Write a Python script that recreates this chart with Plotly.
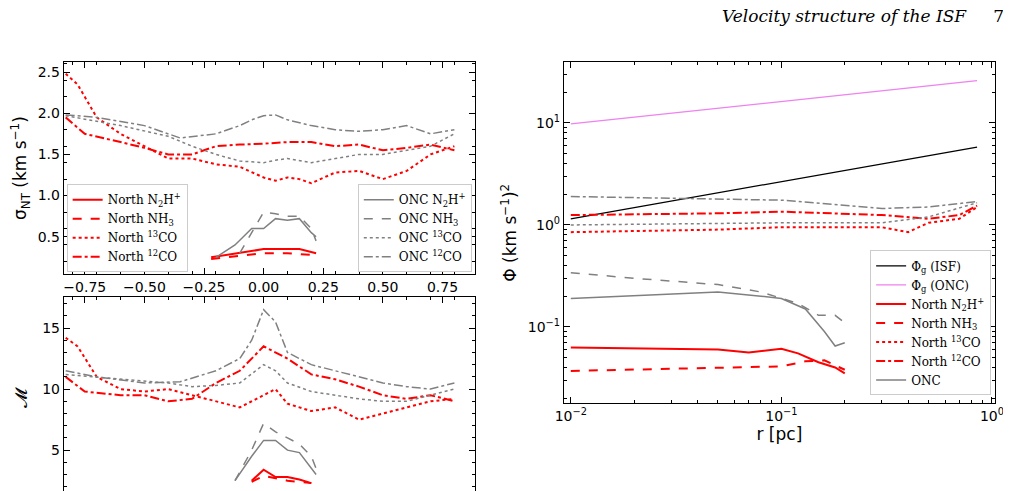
import plotly.graph_objects as go

# ---------- sigma_NT / Mach panels ----------
n12_x = [-0.83,-0.75,-0.6,-0.5,-0.4,-0.3,-0.2,-0.1,0,0.1,0.2,0.3,0.4,0.5,0.6,0.7,0.8]
n12_s = [1.95,1.75,1.65,1.58,1.5,1.5,1.6,1.62,1.63,1.65,1.65,1.6,1.62,1.55,1.58,1.62,1.55]
n12_m = [11,9.8,9.5,9.5,9,9.2,10.5,11.5,13.5,12.5,11.2,10.8,10.2,9.5,9.2,9.5,9]
n13_x = [-0.83,-0.78,-0.7,-0.6,-0.5,-0.4,-0.3,-0.2,-0.1,0,0.05,0.1,0.15,0.2,0.3,0.4,0.5,0.6,0.7,0.8]
n13_s = [2.48,2.35,1.95,1.75,1.6,1.45,1.45,1.38,1.35,1.22,1.18,1.22,1.2,1.15,1.28,1.3,1.2,1.3,1.5,1.6]
n13_m = [14.2,13.5,11,10,9.8,10,9.5,9,8.5,9.5,10,8.8,8.5,8.2,8.5,7.5,8,8.5,9,9.2]
o12_x = [-0.83,-0.7,-0.5,-0.35,-0.2,-0.1,-0.05,0,0.05,0.1,0.2,0.3,0.4,0.5,0.6,0.7,0.8]
o12_s = [1.98,1.95,1.85,1.7,1.75,1.85,1.92,1.97,1.98,1.92,1.85,1.8,1.78,1.8,1.85,1.75,1.8]
o12_m = [11.5,11,10.5,10.6,11.5,12.5,14,16.5,15.5,13,12,11.5,11,10.5,10.2,10,10.5]
o13_x = [-0.83,-0.6,-0.4,-0.3,-0.2,-0.1,0,0.05,0.1,0.2,0.3,0.4,0.5,0.6,0.7,0.8]
o13_s = [1.97,1.85,1.72,1.6,1.5,1.42,1.4,1.43,1.45,1.4,1.45,1.5,1.5,1.55,1.6,1.75]
o13_m = [11.2,10.8,10.5,10.2,10.3,10.5,12,11.5,10.5,9.8,9.5,9.2,9,9,9.5,10]
on2h_x = [-0.2,-0.12,-0.05,0,0.05,0.1,0.15,0.2,0.22]
on2h_s = [0.25,0.4,0.6,0.6,0.72,0.7,0.72,0.55,0.5]
on2h_mx = [-0.12,-0.05,0,0.05,0.1,0.15,0.22]
on2h_m = [2.5,4.5,5.8,5.8,5.0,4.8,3.0]
onh3_x = [-0.1,-0.05,0,0.05,0.1,0.15,0.2,0.22]
onh3_s = [0.3,0.55,0.8,0.78,0.75,0.75,0.6,0.45]
onh3_mx = [-0.12,-0.05,0,0.05,0.1,0.15,0.2,0.22]
onh3_m = [2.5,5,7.2,6.5,6,5.5,4.5,3.5]
nn2h_x = [-0.22,-0.1,0,0.05,0.1,0.15,0.22]
nn2h_s = [0.25,0.3,0.35,0.35,0.35,0.35,0.3]
nn2h_mx = [-0.05,0,0.05,0.1,0.15,0.2]
nn2h_m = [2.5,3.4,2.8,2.8,2.6,2.3]
nnh3_x = [-0.22,-0.1,0,0.1,0.2]
nnh3_s = [0.23,0.27,0.3,0.3,0.28]
nnh3_mx = [-0.05,0,0.1,0.2]
nnh3_m = [2.4,2.9,2.5,2.3]

# ---------- Phi panel ----------
isf_r = [0.01, 0.85]; isf_p = [1.15, 5.8]
oncg_r = [0.01, 0.85]; oncg_p = [9.8, 26]
po12_r = [0.01,0.1,0.3,0.5,0.85]; po12_p = [1.9,1.75,1.45,1.5,1.7]
po13_r = [0.01,0.1,0.3,0.5,0.85]; po13_p = [1.0,1.05,1.05,1.2,1.65]
pn12_r = [0.01,0.05,0.1,0.3,0.5,0.7,0.85]; pn12_p = [1.25,1.3,1.35,1.25,1.15,1.25,1.55]
pn13_r = [0.01,0.05,0.1,0.3,0.4,0.5,0.7,0.85]; pn13_p = [0.85,0.9,0.95,0.95,0.85,1.05,1.15,1.5]
ponh3_r = [0.01,0.02,0.05,0.08,0.12,0.15,0.18,0.2]; ponh3_p = [0.34,0.3,0.26,0.22,0.17,0.13,0.13,0.11]
pon2h_r = [0.01,0.03,0.05,0.08,0.1,0.13,0.16,0.18,0.2]; pon2h_p = [0.19,0.21,0.22,0.2,0.19,0.15,0.09,0.065,0.07]
pnn2h_r = [0.01,0.05,0.07,0.1,0.12,0.15,0.18,0.2]; pnn2h_p = [0.063,0.06,0.056,0.061,0.055,0.045,0.04,0.035]
pnnh3_r = [0.01,0.05,0.1,0.13,0.16,0.2]; pnnh3_p = [0.037,0.04,0.041,0.046,0.047,0.038]

RED = "red"; GRAY = "gray"
fig = go.Figure()
def add(x, y, color, dash, name, xa, ya, legend=None, width=2):
    fig.add_trace(go.Scatter(x=x, y=y, mode="lines", name=name,
        line=dict(color=color, dash=dash, width=width), xaxis=xa, yaxis=ya,
        legend=legend if legend else "legend", showlegend=legend is not None))

lab = {"n2h":"N<sub>2</sub>H<sup>+</sup>","nh3":"NH<sub>3</sub>","13":"<sup>13</sup>CO","12":"<sup>12</sup>CO"}
add(nn2h_x, nn2h_s, RED, "solid", "North "+lab["n2h"], "x", "y", "legend")
add(nnh3_x, nnh3_s, RED, "dash", "North "+lab["nh3"], "x", "y", "legend")
add(n13_x, n13_s, RED, "dot", "North "+lab["13"], "x", "y", "legend")
add(n12_x, n12_s, RED, "dashdot", "North "+lab["12"], "x", "y", "legend")
add(on2h_x, on2h_s, GRAY, "solid", "ONC "+lab["n2h"], "x", "y", "legend2", 1.5)
add(onh3_x, onh3_s, GRAY, "dash", "ONC "+lab["nh3"], "x", "y", "legend2", 1.5)
add(o13_x, o13_s, GRAY, "dot", "ONC "+lab["13"], "x", "y", "legend2", 1.5)
add(o12_x, o12_s, GRAY, "dashdot", "ONC "+lab["12"], "x", "y", "legend2", 1.5)
add(nn2h_mx, nn2h_m, RED, "solid", "", "x2", "y2")
add(nnh3_mx, nnh3_m, RED, "dash", "", "x2", "y2")
add(n13_x, n13_m, RED, "dot", "", "x2", "y2")
add(n12_x, n12_m, RED, "dashdot", "", "x2", "y2")
add(on2h_mx, on2h_m, GRAY, "solid", "", "x2", "y2", None, 1.5)
add(onh3_mx, onh3_m, GRAY, "dash", "", "x2", "y2", None, 1.5)
add(o13_x, o13_m, GRAY, "dot", "", "x2", "y2", None, 1.5)
add(o12_x, o12_m, GRAY, "dashdot", "", "x2", "y2", None, 1.5)
add(isf_r, isf_p, "black", "solid", "Φ<sub>g</sub> (ISF)", "x3", "y3", "legend3", 1.3)
add(oncg_r, oncg_p, "violet", "solid", "Φ<sub>g</sub> (ONC)", "x3", "y3", "legend3", 1.3)
add(pnn2h_r, pnn2h_p, RED, "solid", "North "+lab["n2h"], "x3", "y3", "legend3")
add(pnnh3_r, pnnh3_p, RED, "dash", "North "+lab["nh3"], "x3", "y3", "legend3")
add(pn13_r, pn13_p, RED, "dot", "North "+lab["13"], "x3", "y3", "legend3")
add(pn12_r, pn12_p, RED, "dashdot", "North "+lab["12"], "x3", "y3", "legend3")
add(pon2h_r, pon2h_p, GRAY, "solid", "ONC", "x3", "y3", "legend3", 1.5)
add(ponh3_r, ponh3_p, GRAY, "dash", "", "x3", "y3", None, 1.5)
add(po13_r, po13_p, GRAY, "dot", "", "x3", "y3", None, 1.5)
add(po12_r, po12_p, GRAY, "dashdot", "", "x3", "y3", None, 1.5)

ax = dict(showline=True, linecolor="black", linewidth=1, mirror="ticks", ticks="inside",
          ticklen=6, tickcolor="black", showgrid=False, zeroline=False,
          tickfont=dict(size=14, color="black"))
lin_minor = dict(ticks="inside", ticklen=3, tickcolor="black", nticks=5)
minor_x3 = [m * 10**e for e in (-2, -1) for m in range(2, 10)]
minor_y3 = [m * 10**e for e in (-2, -1, 0, 1) for m in range(2, 10)]
F = dict(family="DejaVu Sans", size=14, color="black")
leg = dict(bgcolor="white", bordercolor="#ccc", borderwidth=1,
           font=dict(size=12, family="DejaVu Serif"))
fig.update_layout(
    width=1011, height=491, margin=dict(l=0, r=0, t=0, b=0),
    paper_bgcolor="white", plot_bgcolor="white", font=F,
    xaxis=dict(ax, domain=[0.0471, 0.4609], range=[-0.838, 0.885], anchor="y", minor=lin_minor,
               tickvals=[-0.75,-0.5,-0.25,0,0.25,0.5,0.75],
               ticktext=["−0.75","−0.50","−0.25","0.00","0.25","0.50","0.75"]),
    yaxis=dict(ax, domain=[0.4583, 0.8896], range=[0.048, 2.62], anchor="x", minor=lin_minor,
               tickvals=[0.5,1,1.5,2,2.5], ticktext=["0.5","1.0","1.5","2.0","2.5"],
               title=dict(text="σ<sub>NT</sub> (km s<sup>−1</sup>)", standoff=6)),
    xaxis2=dict(ax, domain=[0.0471, 0.4609], range=[-0.838, 0.885], anchor="y2", minor=lin_minor,
                showticklabels=False, tickvals=[-0.75,-0.5,-0.25,0,0.25,0.5,0.75]),
    yaxis2=dict(ax, domain=[0.0, 0.4104], range=[1.0, 17.5], anchor="x2", minor=lin_minor,
                tickvals=[5,10,15], title=dict(text="𝓜", standoff=10)),
    xaxis3=dict(ax, type="log", domain=[0.5507, 0.9848], range=[-2.033, 0.014], anchor="y3",
                tickvals=[0.01,0.1,1], ticktext=["10<sup>−2</sup>","10<sup>−1</sup>","10<sup>0</sup>"],
                minor=dict(ticks="inside", ticklen=3, tickcolor="black", tickvals=minor_x3),
                title=dict(text="r [pc]", standoff=4)),
    yaxis3=dict(ax, type="log", domain=[0.1947, 0.8896], range=[-1.75, 1.596], anchor="x3",
                tickvals=[0.1,1,10], ticktext=["10<sup>−1</sup>","10<sup>0</sup>","10<sup>1</sup>"],
                minor=dict(ticks="inside", ticklen=3, tickcolor="black", tickvals=minor_y3),
                title=dict(text="Φ (km s<sup>−1</sup>)<sup>2</sup>", standoff=6)),
    legend=dict(leg, x=0.05, y=0.462, xanchor="left", yanchor="bottom"),
    legend2=dict(leg, x=0.458, y=0.462, xanchor="right", yanchor="bottom"),
    legend3=dict(leg, x=0.981, y=0.211, xanchor="right", yanchor="bottom"),
    annotations=[dict(text="<i>Velocity structure of the ISF</i>     7", x=1, y=1, xref="paper", yref="paper",
                      xanchor="right", yanchor="top", showarrow=False,
                      font=dict(family="DejaVu Serif", size=17, color="black"), xshift=-4, yshift=4)],
)
fig.write_html("out.html")
